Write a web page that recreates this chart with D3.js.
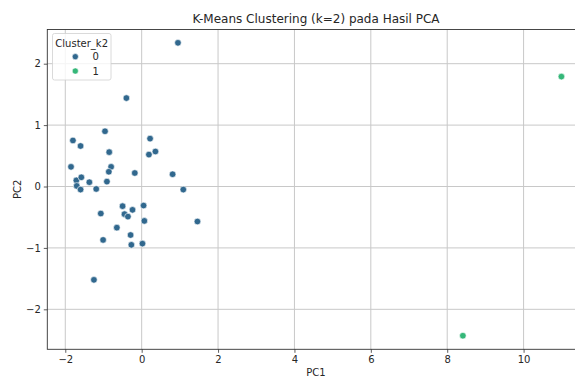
<!DOCTYPE html>
<html>
<head>
<meta charset="utf-8">
<script src="https://cdn.jsdelivr.net/npm/d3@7"></script>
<style>
  body { margin: 0; background: #fff; }
  text { font-family: "DejaVu Sans", sans-serif; fill: #262626; }
</style>
</head>
<body>
<div id="chart"></div>
<script>
// Données (PC1, PC2, cluster)
const pc1 = [0.95, -0.40, -0.96, -1.80, -1.60, 0.22, 0.19, 0.36, -0.85, -0.80, -0.86, -1.85,
  -0.18, 0.81, -1.71, -1.58, -1.37, -0.91, -1.70, -1.60, -1.19, 1.09, -0.50, 0.05,
  -0.24, -0.45, -0.36, -1.07, 0.07, 1.46, -0.65, -0.29, -1.01, -0.27, 0.02, -1.25,
  10.99, 8.41];
const pc2 = [2.34, 1.44, 0.90, 0.75, 0.66, 0.78, 0.52, 0.57, 0.56, 0.32, 0.24, 0.32,
  0.22, 0.20, 0.10, 0.15, 0.07, 0.08, 0.01, -0.05, -0.04, -0.05, -0.32, -0.31,
  -0.38, -0.45, -0.49, -0.44, -0.56, -0.57, -0.67, -0.79, -0.87, -0.95, -0.93, -1.52,
  1.79, -2.43];
const cluster = [0, 0, 0, 0, 0, 0, 0, 0, 0, 0, 0, 0, 0, 0, 0, 0, 0, 0, 0, 0, 0, 0, 0, 0,
  0, 0, 0, 0, 0, 0, 0, 0, 0, 0, 0, 0, 1, 1];
const clusterLabels = ["0", "1"];
const xTicks = [-2, 0, 2, 4, 6, 8, 10];
const yTicks = [-2, -1, 0, 1, 2];

const W = 575, H = 378;
const plot = { left: 47.3, right: 584.7, top: 29.5, bottom: 349.3 };

const svg = d3.select("#chart").append("svg")
  .attr("width", W).attr("height", H);

const x = d3.scaleLinear().domain([-2.471, 11.6]).range([plot.left, plot.right]);
const y = d3.scaleLinear().domain([-2.651, 2.557]).range([plot.bottom, plot.top]);
const color = d3.scaleOrdinal().domain([0, 1]).range(["#31688e", "#35b779"]);

// Grille
const grid = svg.append("g");
grid.selectAll(".gx").data(xTicks).enter().append("line")
  .attr("x1", d => x(d)).attr("x2", d => x(d))
  .attr("y1", plot.top).attr("y2", plot.bottom)
  .attr("stroke", "#c8c8c8").attr("stroke-width", 1);
grid.selectAll(".gy").data(yTicks).enter().append("line")
  .attr("x1", plot.left).attr("x2", plot.right)
  .attr("y1", d => y(d)).attr("y2", d => y(d))
  .attr("stroke", "#c8c8c8").attr("stroke-width", 1);

// Axes
const xAxis = svg.append("g")
  .attr("transform", `translate(0, ${plot.bottom})`)
  .call(d3.axisBottom(x).tickValues(xTicks).tickSize(3.5).tickPadding(3)
    .tickFormat(d => d < 0 ? "\u2212" + Math.abs(d) : d));
const yAxis = svg.append("g")
  .attr("transform", `translate(${plot.left}, 0)`)
  .call(d3.axisLeft(y).tickValues(yTicks).tickSize(3.5).tickPadding(3)
    .tickFormat(d => d < 0 ? "\u2212" + Math.abs(d) : d));
[xAxis, yAxis].forEach(a => {
  a.select(".domain").remove();
  a.selectAll("line").attr("stroke", "#333").attr("stroke-width", 0.8);
  a.selectAll("text").style("font-size", "10px").attr("fill", "#262626");
});

// Cadre
svg.append("rect")
  .attr("x", plot.left).attr("y", plot.top)
  .attr("width", plot.right - plot.left).attr("height", plot.bottom - plot.top)
  .attr("fill", "none").attr("stroke", "#333").attr("stroke-width", 0.9);

// Points
const points = pc1.map((v, i) => ({ x: v, y: pc2[i], c: cluster[i] }));
svg.append("g").selectAll("circle").data(points).enter().append("circle")
  .attr("cx", d => x(d.x)).attr("cy", d => y(d.y))
  .attr("r", 3.3)
  .attr("fill", d => color(d.c))
  .attr("stroke", "#fff").attr("stroke-width", 0.6);

// Titres
svg.append("text").attr("x", (plot.left + plot.right) / 2).attr("y", 23)
  .attr("text-anchor", "middle").style("font-size", "12px")
  .text("K-Means Clustering (k=2) pada Hasil PCA");
svg.append("text").attr("x", (plot.left + plot.right) / 2).attr("y", 375.5)
  .attr("text-anchor", "middle").style("font-size", "10px").text("PC1");
svg.append("text")
  .attr("transform", `translate(21, ${(plot.top + plot.bottom) / 2}) rotate(-90)`)
  .attr("text-anchor", "middle").style("font-size", "10px").text("PC2");

// Légende
const legend = svg.append("g");
legend.append("rect")
  .attr("x", 52.5).attr("y", 33.5).attr("width", 58.5).attr("height", 46.5)
  .attr("rx", 2).attr("fill", "#fff").attr("fill-opacity", 0.8)
  .attr("stroke", "#d0d0d0").attr("stroke-width", 0.8);
legend.append("text").attr("x", 81.7).attr("y", 47)
  .attr("text-anchor", "middle").style("font-size", "10px").text("Cluster_k2");
clusterLabels.forEach((lab, i) => {
  const cy = 56.7 + i * 14.3;
  legend.append("circle").attr("cx", 75.3).attr("cy", cy).attr("r", 3.1)
    .attr("fill", color(i)).attr("stroke", "#fff").attr("stroke-width", 0.6);
  legend.append("text").attr("x", 92.5).attr("y", cy + 3.6)
    .style("font-size", "10px").text(lab);
});
</script>
</body>
</html>
